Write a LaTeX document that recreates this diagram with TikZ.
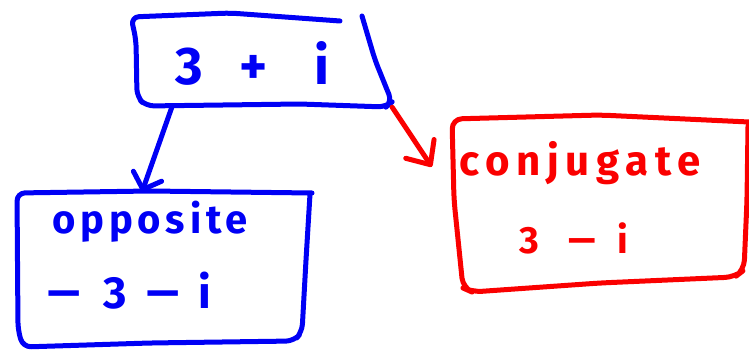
\documentclass[tikz,border=0pt]{standalone}
\usepackage{fontspec}
\setmainfont{Fira Sans}
\usetikzlibrary{arrows.meta,calc}
\definecolor{inkblue}{RGB}{0,0,245}
\definecolor{inkred}{RGB}{250,0,0}
% a fixed-width slot with its glyph centred in it
\newcommand\glyphslot[2]{\makebox[#1pt][c]{#2}}
% a widened minus sign
\newcommand\longminus{\scalebox{1.6}[1]{−}}
\begin{document}
\begin{tikzpicture}[x=1pt,y=-1pt,
  pen/.style={line width=5pt,line cap=round,line join=round},
  area/.style={draw=none,inner sep=0pt,rectangle},
  ink/.style={inner sep=0pt,anchor=base west},
  blueink/.style={ink,text=inkblue},
  redink/.style={ink,text=inkred}]
\path[use as bounding box] (0,0) rectangle (749,350);

% regions occupied by the three boxes
\node[area,minimum width=261pt,minimum height=90pt]  (top)  at (261.5,62)  {};
\node[area,minimum width=295pt,minimum height=153pt] (opp)  at (164.5,268.5) {};
\node[area,minimum width=297pt,minimum height=172pt] (conj) at (600.5,206) {};

% hand-drawn outlines
\draw[pen,inkblue,rounded corners=8pt] (340,21) -- (230,13) -- (131,17) -- (136,40)
  -- (137,97) -- (146,106) -- (300,104) -- (386,107) -- (392,102) -- (375,60) -- (362,16);
\draw[pen,inkblue,rounded corners=8pt] (312,193) -- (150,191) -- (17,193) -- (18,330)
  -- (23,347) -- (150,343) -- (294,341) -- (302,332) -- (306,260) -- (310,194);
\draw[pen,inkred,rounded corners=10pt] (749,122) -- (600,115) -- (452,119) -- (454,200)
  -- (463,288) -- (472,292) -- (600,283) -- (735,277) -- (744,270) -- (747,200) -- (748,126);

% texts
\node[blueink,font=\fontsize{53}{53}\selectfont\bfseries] (topval) at (159.5,85)
  {\glyphslot{60}{3}\glyphslot{67}{+}\glyphslot{70}{i}};
\node[blueink,font=\fontsize{40}{40}\selectfont\bfseries\addfontfeature{LetterSpace=12}] (opplabel) at (52,233) {opposite};
\node[blueink,font=\fontsize{45}{45}\selectfont\bfseries] (oppval) at (38.5,308)
  {\glyphslot{50}{\longminus}\glyphslot{53}{3}\glyphslot{42}{\longminus}\glyphslot{43}{i}};
\node[redink,font=\fontsize{42}{42}\selectfont\bfseries\addfontfeature{LetterSpace=16}] (conjlabel) at (459,175) {conjugate};
\node[redink,font=\fontsize{38}{38}\selectfont\bfseries] (conjval) at (504.5,253)
  {\glyphslot{50}{3}\glyphslot{56}{\longminus}\glyphslot{25}{i}};

% connectors
\draw[pen,inkblue,-{Straight Barb[length=14pt,width=30pt,round]}]
  ($(top.south west)!0.157!(top.south east)$) -- ($(opp.north west)!0.424!(opp.north east)$);
\draw[pen,inkred,-{Straight Barb[length=19pt,width=34pt,round]}]
  (top.south east) -- ($(conj.north west)+(-20,47)$);
\end{tikzpicture}
\end{document}
